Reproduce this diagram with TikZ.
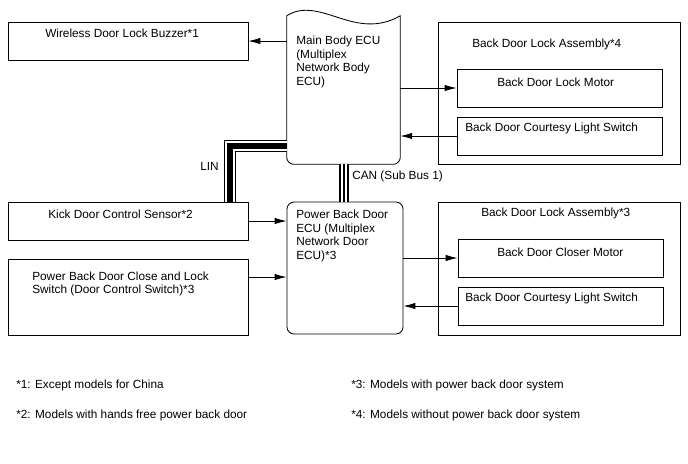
\documentclass[tikz,border=0pt]{standalone}
\usepackage{fontspec}
\setmainfont{Liberation Sans}
\usetikzlibrary{arrows.meta, positioning, fit, calc}

\begin{document}
\begin{tikzpicture}[
    x=0.025cm, y=-0.025cm, % pixel grid of the sheet
    every node/.style={font=\fontsize{8.4}{9.8}\selectfont, align=left, inner sep=0pt},
    box/.style={rectangle, draw, line width=0.6pt, inner sep=0pt},
    ecubox/.style={box, rounded corners=5pt},
    shapeonly/.style={rectangle, inner sep=0pt},
    arrow/.style={-{Latex[length=8.5pt, width=4.6pt]}, line width=0.6pt},
    linbus/.style={line width=9.2pt,
      postaction={draw, white, line width=6.6pt},
      postaction={draw, black, line width=4.2pt}},
    canbus/.style={line width=7.8pt,
      postaction={draw, white, line width=4.6pt},
      postaction={draw, black, line width=1pt}},
  ]
  \useasboundingbox (0,0) rectangle (688,463);

  % --- Boxes ---
  \node[box, fit={(8,22) (248,60)}] (buzzer) {};
  \node[shapeonly, fit={(287,16) (400,164)}] (mainecu) {};
  \node[box, fit={(438,22) (680,164)}] (assy4) {};
  \node[box, fit={(457,69) (662,107)}] (lockmotor) {};
  \node[box, fit={(457,117) (662,155)}] (courtesyA) {};

  \node[box, fit={(8,202) (248,240)}] (kick) {};
  \node[box, fit={(8,259) (248,335)}] (pbdswitch) {};
  \node[ecubox, fit={(287,202) (403,334)}] (pbdecu) {};
  \node[box, fit={(438,202) (680,335)}] (assy3) {};
  \node[box, fit={(458,239) (663,277)}] (closer) {};
  \node[box, fit={(458,287) (663,325)}] (courtesyB) {};

  % main body ECU outline, wavy top
  \draw[line width=0.6pt] (mainecu.north west)
    {[rounded corners=5pt] -- (mainecu.south west) -- (mainecu.south east)}
    -- (mainecu.north east)
    .. controls (355,42) and (320,-5) .. (mainecu.north west);

  % --- Texts ---
  \node[anchor=west] (buzzertxt) at (45,33) {Wireless Door Lock Buzzer*1};
  \node[anchor=west] (mainecutxt) at (296,62)
    {Main Body ECU\\(Multiplex\\Network Body\\ECU)};
  \node[anchor=west] (assy4txt) at (472,44) {Back Door Lock Assembly*4};
  \node[anchor=west] (lockmotortxt) at (497,82) {Back Door Lock Motor};
  \node[anchor=west] (courtesyAtxt) at (465,128) {Back Door Courtesy Light Switch};

  \node[anchor=west] (kicktxt) at (48,214) {Kick Door Control Sensor*2};
  \node[anchor=west] (pbdswitchtxt) at (32,284)
    {Power Back Door Close and Lock\\Switch (Door Control Switch)*3};
  \node[anchor=west] (pbdecutxt) at (296,236)
    {Power Back Door\\ECU (Multiplex\\Network Door\\ECU)*3};
  \node[anchor=west] (assy3txt) at (481,213) {Back Door Lock Assembly*3};
  \node[anchor=west] (closertxt) at (497,252) {Back Door Closer Motor};
  \node[anchor=west] (courtesyBtxt) at (465,298) {Back Door Courtesy Light Switch};

  % --- Buses ---
  \coordinate (linbend) at (230,146);
  \coordinate (canx) at (344,0);
  \draw[linbus] (linbend -| mainecu.west) -- (linbend) -- (linbend |- kick.north);
  \draw[canbus] (canx |- mainecu.south) -- (canx |- pbdecu.north);
  \node[anchor=west] (lintxt) at (200,166) {LIN};
  \node[anchor=west] (cantxt) at (352,176) {CAN (Sub Bus 1)};

  % --- Arrows ---
  \draw[arrow] (mainecu.west |- buzzer) -- (buzzer.east);
  \draw[arrow] (mainecu.east |- lockmotor) -- (lockmotor.west);
  \draw[arrow] (courtesyA.west) -- (mainecu.east |- courtesyA);
  \draw[arrow] (kick.east) -- (pbdecu.west |- kick);
  \coordinate (swout) at ($(pbdswitch.north east)!0.24!(pbdswitch.south east)$);
  \draw[arrow] (swout) -- (pbdecu.west |- swout);
  \draw[arrow] (pbdecu.east |- closer) -- (closer.west);
  \draw[arrow] (courtesyB.west) -- (pbdecu.east |- courtesyB);

  % --- Footnotes ---
  \node[anchor=west] (note1) at (16,385) {*1: Except models for China};
  \node[anchor=west] (note2) at (16,415) {*2: Models with hands free power back door};
  \node[anchor=west] (note3) at (351,385) {*3: Models with power back door system};
  \node[anchor=west] (note4) at (351,415) {*4: Models without power back door system};
\end{tikzpicture}
\end{document}
